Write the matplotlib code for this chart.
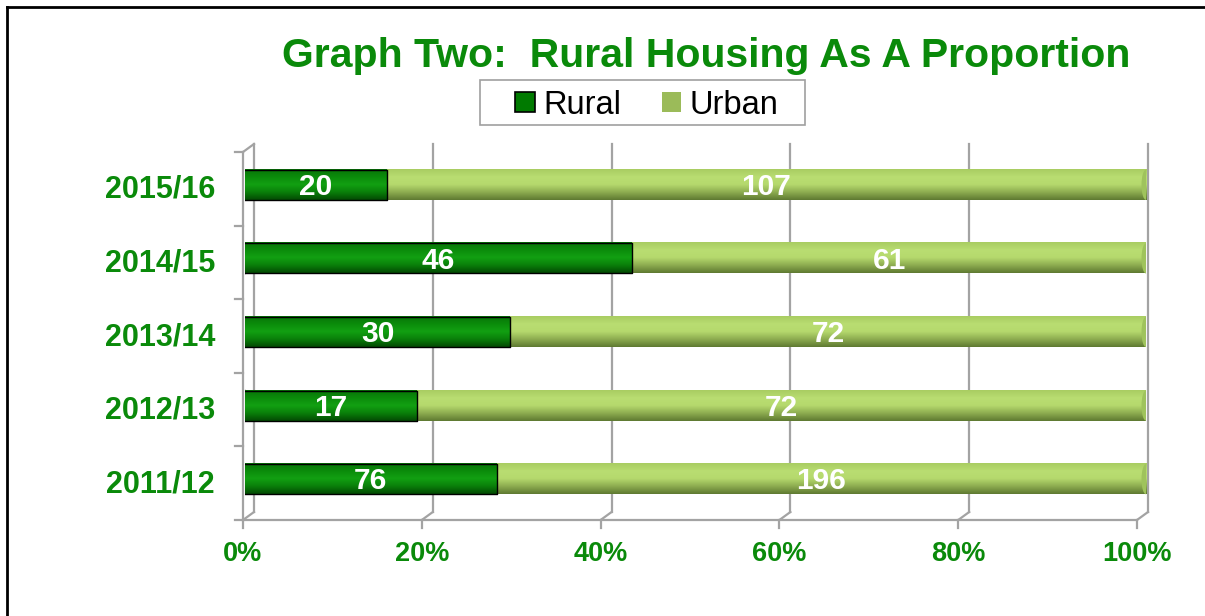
import numpy as np
import matplotlib
matplotlib.use('agg')
import matplotlib.pyplot as plt
from matplotlib.transforms import offset_copy
from matplotlib.lines import Line2D
from matplotlib.patches import Patch, Ellipse, Rectangle
from matplotlib.colors import LinearSegmentedColormap

# data
years = ['2011/12', '2012/13', '2013/14', '2014/15', '2015/16']
rural = [76, 17, 30, 46, 20]
urban = [196, 72, 72, 61, 107]
x_ticks = [0, 0.2, 0.4, 0.6, 0.8, 1.0]
x_labels = ['0%', '20%', '40%', '60%', '80%', '100%']

GREEN = '#0a8a0a'
W, H = 1205, 616

plt.rcParams['font.family'] = ['Liberation Sans', 'DejaVu Sans']
fig = plt.figure(figsize=(W / 100, H / 100), dpi=100)
# frame axes (floor / walls)
ax = fig.add_axes([243 / W, (H - 520) / H, (1137 - 243) / W, (520 - 152) / H])
ax.set_xlim(0, 1)
ax.set_ylim(-0.5, 4.5)
ax.axis('off')
# bars sit a bit deeper in the box
axb = fig.add_axes([245 / W, (H - 516) / H, (1146 - 245) / W, (520 - 152) / H])
axb.set_xlim(0, 1)
axb.set_ylim(-0.5, 4.5)
axb.axis('off')

back = offset_copy(ax.transData, fig=fig, x=11, y=8, units='dots')

grid_c = '#a3a3a3'
for xv in x_ticks:
    ax.plot([xv, xv], [-0.5, 4.5], color=grid_c, lw=1.6, transform=back, clip_on=False)
    p0 = ax.transData.transform((xv, -0.5))
    ax.add_line(Line2D([p0[0], p0[0] + 11], [p0[1], p0[1] + 8], color=grid_c, lw=1.6,
                       transform=None, clip_on=False))
    ax.add_line(Line2D([p0[0], p0[0]], [p0[1], p0[1] - 8], color=grid_c, lw=1.6,
                       transform=None, clip_on=False))

ax.plot([0, 1], [-0.5, -0.5], color=grid_c, lw=1.6, clip_on=False)
ax.plot([0, 0], [-0.5, 4.5], color=grid_c, lw=1.6, clip_on=False)
pt = ax.transData.transform((0, 4.5))
ax.add_line(Line2D([pt[0], pt[0] + 11], [pt[1], pt[1] + 8], color=grid_c, lw=1.6,
                   transform=None, clip_on=False))
for yv in np.arange(-0.5, 5, 1):
    p = ax.transData.transform((0, yv))
    ax.add_line(Line2D([p[0] - 8, p[0]], [p[1], p[1]], color=grid_c, lw=1.6,
                       transform=None, clip_on=False))

# cylinder-like gradients
rural_cmap = LinearSegmentedColormap.from_list('r', ['#034a03', '#0a7f0a', '#12a012', '#0b8c0b', '#087508'])
urban_cmap = LinearSegmentedColormap.from_list('u', ['#5f7a32', '#8dac50', '#b5d96d', '#b9dd72', '#a9cd62'])
grad = np.linspace(0, 1, 64).reshape(-1, 1)

tot = np.array(rural) + np.array(urban)
rp = np.array(rural) / tot
bh = 0.41
cap = 9 / 901
for i in range(len(years)):
    y0, y1 = i - bh / 2, i + bh / 2
    axb.imshow(grad, cmap=rural_cmap, aspect='auto', extent=(0, rp[i], y0, y1),
               origin='lower', zorder=3)
    axb.imshow(grad, cmap=urban_cmap, aspect='auto', extent=(rp[i], 1, y0, y1),
               origin='lower', zorder=3)
    axb.add_patch(Ellipse((1, i), cap, bh, facecolor='#9fc35c', edgecolor='none', zorder=3))
    axb.add_patch(Ellipse((0, i), cap, bh, facecolor='#0a7f0a', edgecolor='black', lw=1.0, zorder=2))
    axb.plot([0, rp[i], rp[i], 0], [y0, y0, y1, y1], color='black', lw=1.0, zorder=4)
    axb.text(rp[i] / 2, i - 0.03, str(rural[i]), color='white', fontsize=21.5, fontweight='bold',
             ha='center', va='center', zorder=5)
    axb.text((rp[i] + 1) / 2, i - 0.03, str(urban[i]), color='white', fontsize=21.5, fontweight='bold',
             ha='center', va='center', zorder=5)
axb.set_xlim(0, 1)
axb.set_ylim(-0.5, 4.5)

# tick labels
for i, lab in enumerate(years):
    p = ax.transData.transform((0, i))
    fig.text((p[0] - 28) / W, (p[1] - 1) / H, lab, color=GREEN, fontsize=22, fontweight='bold',
             ha='right', va='center')
for xv, lab in zip(x_ticks, x_labels):
    p = ax.transData.transform((xv, -0.5))
    fig.text(p[0] / W, (p[1] - 34) / H, lab, color=GREEN, fontsize=19.5, fontweight='bold',
             ha='center', va='center')

fig.text(706 / W, 1 - 56 / H, 'Graph Two:  Rural Housing As A Proportion', color=GREEN,
         fontsize=29.5, fontweight='bold', ha='center', va='center')

# legend box drawn separately so its padding matches
fig.add_artist(Rectangle((480 / W, 1 - 125 / H), 325 / W, 45 / H, transform=fig.transFigure,
                         facecolor='white', edgecolor='#a0a0a0', lw=1.2))
handles = [Patch(facecolor='#007a00', edgecolor='black', lw=1.2, label='Rural'),
           Patch(facecolor='#9bbb59', edgecolor='none', label='Urban')]
leg = fig.legend(handles=handles, loc='center', bbox_to_anchor=(647 / W, 1 - 105 / H), ncol=2,
                 fontsize=23.5, frameon=False,
                 handlelength=0.6, handleheight=0.6, handletextpad=0.25, columnspacing=1.25,
                 borderpad=0.2, borderaxespad=0)

# page frame lines (left and top)
fig.add_artist(Line2D([6.5 / W, 6.5 / W], [0, 1 - 7 / H], color='black', lw=2, transform=fig.transFigure))
fig.add_artist(Line2D([6.5 / W, 1], [1 - 7 / H, 1 - 7 / H], color='black', lw=2, transform=fig.transFigure))

fig.savefig('out.png', dpi=100)
